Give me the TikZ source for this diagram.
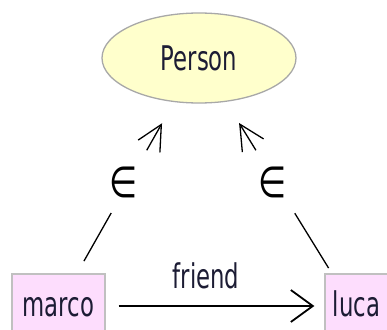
\documentclass[tikz,border=0pt]{standalone}
\usepackage{fontspec}
\setmainfont{DejaVu Sans}[FakeStretch=0.67]
\newfontfamily\symfont{DejaVu Sans}[FakeStretch=0.75]
\usetikzlibrary{arrows.meta,shapes.geometric}

\definecolor{inkc}{RGB}{28,28,52}
\definecolor{ellfill}{RGB}{255,255,204}
\definecolor{ellgray}{RGB}{168,168,168}
\definecolor{boxfill}{RGB}{253,221,253}
\definecolor{boxgray}{RGB}{192,192,192}

\begin{document}
\begin{tikzpicture}[x=1pt,y=1pt,
  txt/.style={font=\fontsize{34}{40}\selectfont, text=inkc},
  class/.style={ellipse, txt, draw=ellgray, line width=1.3pt, fill=ellfill,
    minimum width=194pt, minimum height=90pt, inner sep=0pt},
  individual/.style={rectangle, txt, draw=boxgray, line width=1.3pt, fill=boxfill,
    inner sep=0pt, text height=42pt, text depth=22pt},
  member/.style={font=\symfont\fontsize{43}{48}\selectfont, text=black, inner sep=0pt},
  memberline/.style={line width=1.3pt, black},
  memberhead/.style={-{Straight Barb[length=25pt,width=25pt]}},
  relation/.style={line width=1.8pt, black, -{Straight Barb[length=22pt,width=32pt]}}
]
\useasboundingbox (0,0) rectangle (387,-329);
\clip (0,0) rectangle (387,-329);

% class and individuals
\node[class] (person) at (199,-58) {Person};
\node[individual, minimum width=93pt] (marco) at (58.5,-306) {marco};
\node[individual, minimum width=63pt] (luca) at (356.5,-306) {luca};

% membership of marco
\path (marco.center) -- (person.center)
  coordinate[pos=0.181] (m1) coordinate[pos=0.375] (m2)
  coordinate[pos=0.628] (m3) coordinate[pos=0.737] (m4)
  node[member, pos=0.5, xshift=-5pt] (min) {∈};
\draw[memberline] (m1) -- (m2);
\draw[memberline, memberhead] (m3) -- (m4);

% membership of luca
\path ([xshift=-4.5pt]luca.center) -- (person.center)
  coordinate[pos=0.153] (l1) coordinate[pos=0.374] (l2)
  coordinate[pos=0.628] (l3) coordinate[pos=0.738] (l4)
  node[member, pos=0.5, xshift=-3pt] (lin) {∈};
\draw[memberline] (l1) -- (l2);
\draw[memberline, memberhead] (l3) -- (l4);

% friend relation
\draw[relation, shorten <=13pt, shorten >=10pt] (marco.east) -- (luca.west)
  node[txt, midway, anchor=base, yshift=18pt, xshift=-9pt] (rel) {friend};
\end{tikzpicture}
\end{document}
